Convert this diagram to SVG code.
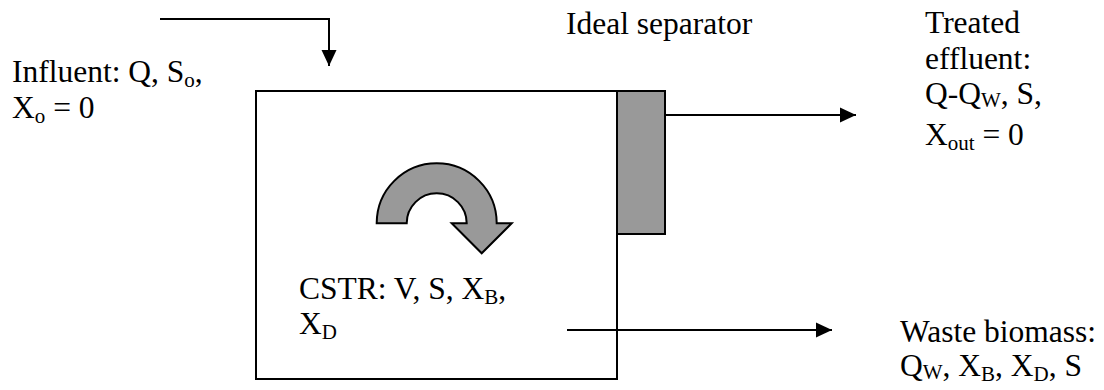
<svg xmlns="http://www.w3.org/2000/svg" width="1104" height="390" viewBox="0 0 1104 390">
<style>
text{font-family:"Liberation Serif","Times New Roman",serif;font-size:31.5px;fill:#000}
.sub{font-size:21px}
.ln{fill:none;stroke:#000;stroke-width:2}
.sh{fill:#999;stroke:#000;stroke-width:2}
</style>
<defs>
<marker id="ah" markerUnits="userSpaceOnUse" markerWidth="16" markerHeight="16" viewBox="0 0 16 16" refX="16" refY="8" orient="auto">
<path d="M0,0.5 L16,8 L0,15.5 Z" fill="#000"/>
</marker>
</defs>
<rect width="1104" height="390" fill="#fff"/>
<g id="reactor">
<rect class="ln" x="256" y="91" width="361" height="288"/>
<path class="sh" d="M376.7,223.3 A60,60 0 0 1 496.7,223.3 L511.7,223.3 L481.7,253.3 L451.7,223.3 L466.7,223.3 A30,30 0 0 0 406.7,223.3 Z"/>
<text x="299" y="299">CSTR: V, S, X<tspan class="sub" dy="5">B</tspan><tspan dy="-5">,</tspan></text>
<text x="299" y="334">X<tspan class="sub" dy="5">D</tspan></text>
</g>
<g id="separator">
<rect class="sh" x="617" y="91" width="48" height="143"/>
<text x="566" y="34">Ideal separator</text>
</g>
<g id="influent">
<text x="12" y="82">Influent: Q, S<tspan class="sub" dy="5">o</tspan><tspan dy="-5">,</tspan></text>
<text x="12" y="118">X<tspan class="sub" dy="5">o</tspan><tspan dy="-5"> = 0</tspan></text>
</g>
<g id="effluent">
<text x="925" y="33">Treated</text>
<text x="925" y="69">effluent:</text>
<text x="925" y="104">Q-Q<tspan class="sub" dy="3">W</tspan><tspan dy="-3">, S,</tspan></text>
<text x="925" y="145">X<tspan class="sub" dy="5">out</tspan><tspan dy="-5"> = 0</tspan></text>
</g>
<g id="waste">
<text x="900" y="342">Waste biomass:</text>
<text x="900" y="376">Q<tspan class="sub" dy="3">W</tspan><tspan dy="-3">, X</tspan><tspan class="sub" dy="5">B</tspan><tspan dy="-5">, X</tspan><tspan class="sub" dy="5">D</tspan><tspan dy="-5">, S</tspan></text>
</g>
<g id="connectors">
<path class="ln" d="M160,19 H329 V66" marker-end="url(#ah)"/>
<path class="ln" d="M665,115 H856" marker-end="url(#ah)"/>
<path class="ln" d="M567,330 H832" marker-end="url(#ah)"/>
</g>
</svg>
